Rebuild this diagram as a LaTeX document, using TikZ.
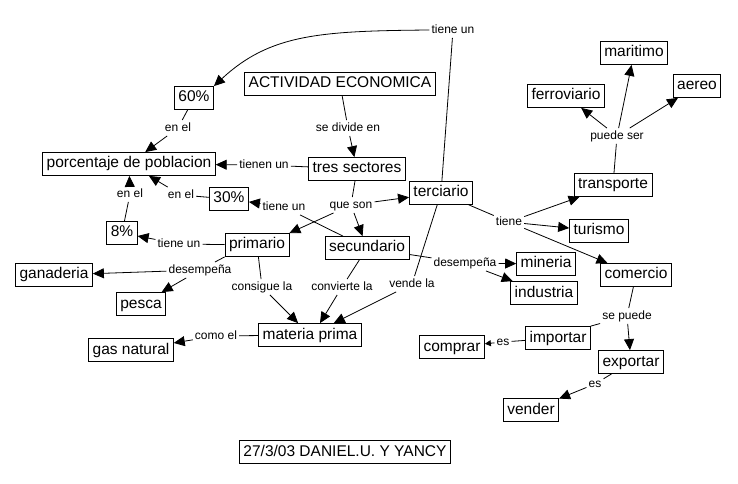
\documentclass[tikz,border=0pt]{standalone}
\usepackage{fontspec}
\setmainfont{Liberation Sans}
\usetikzlibrary{arrows.meta}
\tikzset{
  conbox/.style={
    rectangle, draw=black, line width=0.8bp, fill=white,
    inner xsep=4bp, inner ysep=4bp,
    text height=11.5bp, text depth=3.5bp,
    font=\fontsize{15.5bp}{18bp}\selectfont
  },
  linklbl/.style={
    inner sep=2bp, text height=9bp, text depth=2.5bp,
    font=\fontsize{12bp}{14bp}\selectfont
  },
  linkline/.style={line width=0.8bp},
  linkarrow/.style={-{Triangle[length=11bp,width=10bp]}, line width=0.8bp},
  smallarrow/.style={-{Triangle[length=6bp,width=6bp]}, line width=0.8bp},
}

\begin{document}
\begin{tikzpicture}[x=1bp,y=-1bp]
  \fill[white] (0,0) rectangle (738,484);
  \useasboundingbox (0,0) rectangle (738,484);

  \node[conbox] (actividad)  at (340,84)  {ACTIVIDAD ECONOMICA};
  \node[conbox] (sesenta)    at (194,98)  {60\%};
  \node[conbox] (porcentaje) at (129,164) {porcentaje de poblacion};
  \node[conbox] (tres)       at (357,169) {tres sectores};
  \node[conbox] (treinta)    at (229,199) {30\%};
  \node[conbox] (ocho)       at (122,233) {8\%};
  \node[conbox] (primario)   at (257,245) {primario};
  \node[conbox] (secundario) at (367,248) {secundario};
  \node[conbox] (terciario)  at (441,193) {terciario};
  \node[conbox] (ganaderia)  at (54,275)  {ganaderia};
  \node[conbox] (pesca)      at (141,304) {pesca};
  \node[conbox] (gas)        at (131,350) {gas natural};
  \node[conbox] (materia)    at (310,335) {materia prima};
  \node[conbox] (mineria)    at (546,264) {mineria};
  \node[conbox] (industria)  at (544,293) {industria};
  \node[conbox] (maritimo)   at (634,53)  {maritimo};
  \node[conbox] (ferro)      at (566,96)  {ferroviario};
  \node[conbox] (aereo)      at (697,86)  {aereo};
  \node[conbox] (transporte) at (613,185) {transporte};
  \node[conbox] (turismo)    at (599,231) {turismo};
  \node[conbox] (comercio)   at (636,275) {comercio};
  \node[conbox] (importar)   at (558,338) {importar};
  \node[conbox] (comprar)    at (452,347) {comprar};
  \node[conbox] (exportar)   at (631,362) {exportar};
  \node[conbox] (vender)     at (531,410) {vender};
  \node[conbox] (fecha)      at (345,452) {27/3/03 DANIEL.U. Y YANCY};

  \node[linklbl] (lTieneTop)   at (453,30)  {tiene un};
  \node[linklbl] (lDivide)     at (348,128) {se divide en};
  \node[linklbl] (lEnelSes)    at (178,128) {en el};
  \node[linklbl] (lTienen)     at (264,165) {tienen un};
  \node[linklbl] (lEnelOcho)   at (130,194) {en el};
  \node[linklbl] (lEnelTre)    at (181,195) {en el};
  \node[linklbl] (lTieneTre)   at (284,207) {tiene un};
  \node[linklbl] (lQueSon)     at (351,205) {que son};
  \node[linklbl] (lTieneOcho)  at (179,244) {tiene un};
  \node[linklbl] (lDesempP)    at (200,270) {desempeña};
  \node[linklbl] (lConsigue)   at (262,287) {consigue la};
  \node[linklbl] (lConvierte)  at (342,287) {convierte la};
  \node[linklbl] (lVende)      at (412,284) {vende la};
  \node[linklbl] (lDesempS)    at (465,263) {desempeña};
  \node[linklbl] (lComo)       at (216,336) {como el};
  \node[linklbl] (lTieneT)     at (509,222) {tiene};
  \node[linklbl] (lPuedeSer)   at (617,136) {puede ser};
  \node[linklbl] (lSePuede)    at (627,316) {se puede};
  \node[linklbl] (lEsImp)      at (503,342) {es};
  \node[linklbl] (lEsExp)      at (595,384) {es};

  \draw[linkline] (terciario) -- (lTieneTop);
  \draw[linkarrow] (lTieneTop.west) .. controls (320,31) and (270,34) .. (sesenta.north east);
  \draw[linkline] (terciario) -- (lVende);
  \draw[linkarrow] (lVende) -- (materia);

  \draw[linkline] (actividad) -- (lDivide);
  \draw[linkarrow] (lDivide) -- (tres);
  \draw[linkline] (tres) -- (lTienen);
  \draw[linkarrow] (lTienen) -- (porcentaje);
  \draw[linkline] (sesenta) -- (lEnelSes);
  \draw[linkarrow] (lEnelSes) -- (porcentaje);
  \draw[linkline] (ocho) -- (lEnelOcho);
  \draw[linkarrow] (lEnelOcho) -- (porcentaje);
  \draw[linkline] (treinta) -- (lEnelTre);
  \draw[linkarrow] (lEnelTre) -- (porcentaje);

  \draw[linkline] (tres) -- (lQueSon);
  \draw[linkarrow] (lQueSon) -- (primario.north east);
  \draw[linkarrow] (lQueSon) -- (secundario);
  \draw[linkarrow] (lQueSon) -- (terciario);

  \draw[linkline] (secundario) -- (lTieneTre);
  \draw[linkarrow] (lTieneTre) -- (treinta);
  \draw[linkline] (primario) -- (lTieneOcho);
  \draw[linkarrow] (lTieneOcho) -- (ocho);
  \draw[linkline] (primario.south west) -- (lDesempP);
  \draw[linkarrow] (lDesempP) -- (ganaderia);
  \draw[linkarrow] (lDesempP) -- (pesca);
  \draw[linkline] (primario) -- (lConsigue);
  \draw[linkarrow] (lConsigue) -- (materia);
  \draw[linkline] (secundario) -- (lConvierte);
  \draw[linkarrow] (lConvierte) -- ([xshift=10bp]materia.north);
  \draw[linkline] (secundario) -- (lDesempS);
  \draw[linkarrow] (lDesempS) -- (mineria);
  \draw[linkarrow] (lDesempS) -- (industria);
  \draw[linkline] (materia) -- (lComo);
  \draw[linkarrow] (lComo) -- (gas);

  \draw[linkline] (terciario) -- (lTieneT);
  \draw[linkarrow] (lTieneT) -- (transporte);
  \draw[linkarrow] (lTieneT) -- (turismo);
  \draw[linkarrow] (lTieneT) -- (comercio);
  \draw[linkline] (transporte) -- (lPuedeSer);
  \draw[linkarrow] (lPuedeSer) -- (ferro);
  \draw[linkarrow] (lPuedeSer) -- (maritimo);
  \draw[linkarrow] (lPuedeSer) -- (aereo);
  \draw[linkline] (comercio) -- (lSePuede);
  \draw[linkarrow] (lSePuede) -- (exportar);
  \draw[linkline] (lSePuede) -- (importar.north east);
  \draw[linkline] (importar) -- (lEsImp);
  \draw[smallarrow] (lEsImp) -- (comprar);
  \draw[linkline] (exportar) -- (lEsExp);
  \draw[linkarrow] (lEsExp) -- (vender);
\end{tikzpicture}
\end{document}
